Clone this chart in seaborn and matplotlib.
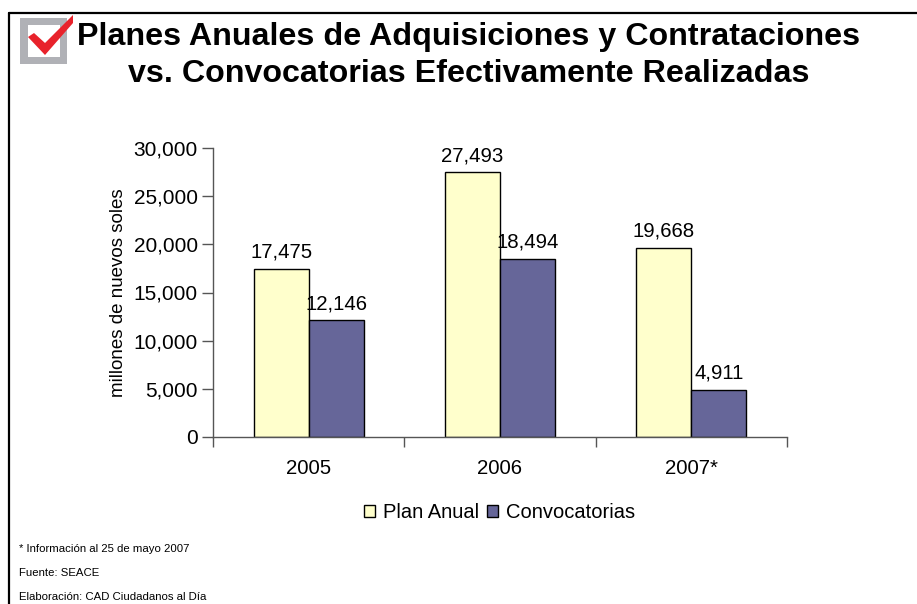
import pandas as pd
import matplotlib
matplotlib.use('Agg')
import matplotlib.pyplot as plt
import seaborn as sns
from matplotlib.patches import Polygon, Rectangle

years = ['2005', '2006', '2007*']
plan_anual = [17475, 27493, 19668]
convocatorias = [12146, 18494, 4911]
series_names = ['Plan Anual', 'Convocatorias']
y_ticks = [0, 5000, 10000, 15000, 20000, 25000, 30000]

title = 'Planes Anuales de Adquisiciones y Contrataciones\nvs. Convocatorias Efectivamente Realizadas'
notas = ['* Información al 25 de mayo 2007', 'Fuente: SEACE', 'Elaboración: CAD Ciudadanos al Día']

W, H = 917, 604

sns.set_style('white')
plt.rcParams['font.family'] = ['Liberation Sans', 'DejaVu Sans']
plt.rcParams['text.color'] = 'black'
plt.rcParams['axes.labelcolor'] = 'black'
plt.rcParams['xtick.labelcolor'] = 'black'
plt.rcParams['ytick.labelcolor'] = 'black'

df = pd.DataFrame({
    'year': years * 2,
    'valor': plan_anual + convocatorias,
    'serie': [series_names[0]] * 3 + [series_names[1]] * 3,
})

fig = plt.figure(figsize=(W / 100, H / 100), dpi=100)
ax = fig.add_axes([213 / W, 1 - 437 / H, 574 / W, 289 / H])

sns.barplot(data=df, x='year', y='valor', hue='serie', ax=ax, width=0.575, gap=0,
            palette=['#FFFFCC', '#666699'], edgecolor='black', linewidth=1, saturation=1)

ax.set_xlim(-0.5, 2.5)
ax.set_ylim(0, 30000)
ax.set_yticks(y_ticks)
ax.set_yticklabels([f'{v:,}' for v in y_ticks], fontsize=15)
ax.set_xticks([-0.5, 0.5, 1.5, 2.5], minor=True)
ax.set_xticks([0, 1, 2])
ax.set_xticklabels(years, fontsize=14.7)
ax.tick_params(axis='x', which='major', length=0, pad=16)
ax.tick_params(axis='x', which='minor', length=7, width=1, color='#555555', bottom=True)
ax.tick_params(axis='y', length=8, width=1, color='#555555', left=True, pad=3)
ax.set_xlabel('')
ax.set_ylabel('millones de nuevos soles', fontsize=13.5, labelpad=5)

for s in ['top', 'right']:
    ax.spines[s].set_visible(False)
for s in ['left', 'bottom']:
    ax.spines[s].set_color('#555555')
    ax.spines[s].set_linewidth(1)

for cont in ax.containers:
    ax.bar_label(cont, fmt='{:,.0f}', fontsize=14.7, padding=5)

handles, labels = ax.get_legend_handles_labels()
ax.legend(handles, labels, loc='center', bbox_to_anchor=(499.5 / W, 1 - 513 / H),
          bbox_transform=fig.transFigure, ncol=2, frameon=False, fontsize=14.5,
          handlelength=0.55, handleheight=0.55, handletextpad=0.4, columnspacing=0.35)

# marco de la lamina
fig.add_artist(plt.Line2D([8.5 / W, 8.5 / W], [0, 1 - 12.5 / H], color='black', lw=1.6))
fig.add_artist(plt.Line2D([8.5 / W, 1], [1 - 12.5 / H, 1 - 12.5 / H], color='black', lw=1.6))

# logo de la casilla
def px(x, y):
    return (x / W, 1 - y / H)

fig.add_artist(Rectangle(px(20, 64), 47 / W, 46 / H, transform=fig.transFigure,
                         facecolor='#B0B1B6', edgecolor='none'))
fig.add_artist(Rectangle(px(28, 57), 32 / W, 32 / H, transform=fig.transFigure,
                         facecolor='white', edgecolor='none'))
fig.add_artist(Polygon([px(28, 37), px(34, 33), px(45, 43), px(73, 15), px(73, 23), px(45, 55)],
                       transform=fig.transFigure, facecolor='#E8222B', edgecolor='none'))

fig.text(468.5 / W, 1 - 55.5 / H, title, ha='center', va='center', fontsize=23.2,
         fontweight='bold', linespacing=1.34)

for nota, y in zip(notas, [549, 573, 597]):
    fig.text(19 / W, 1 - y / H, nota, ha='left', va='center', fontsize=8.2)

fig.savefig('out.png', dpi=100)
